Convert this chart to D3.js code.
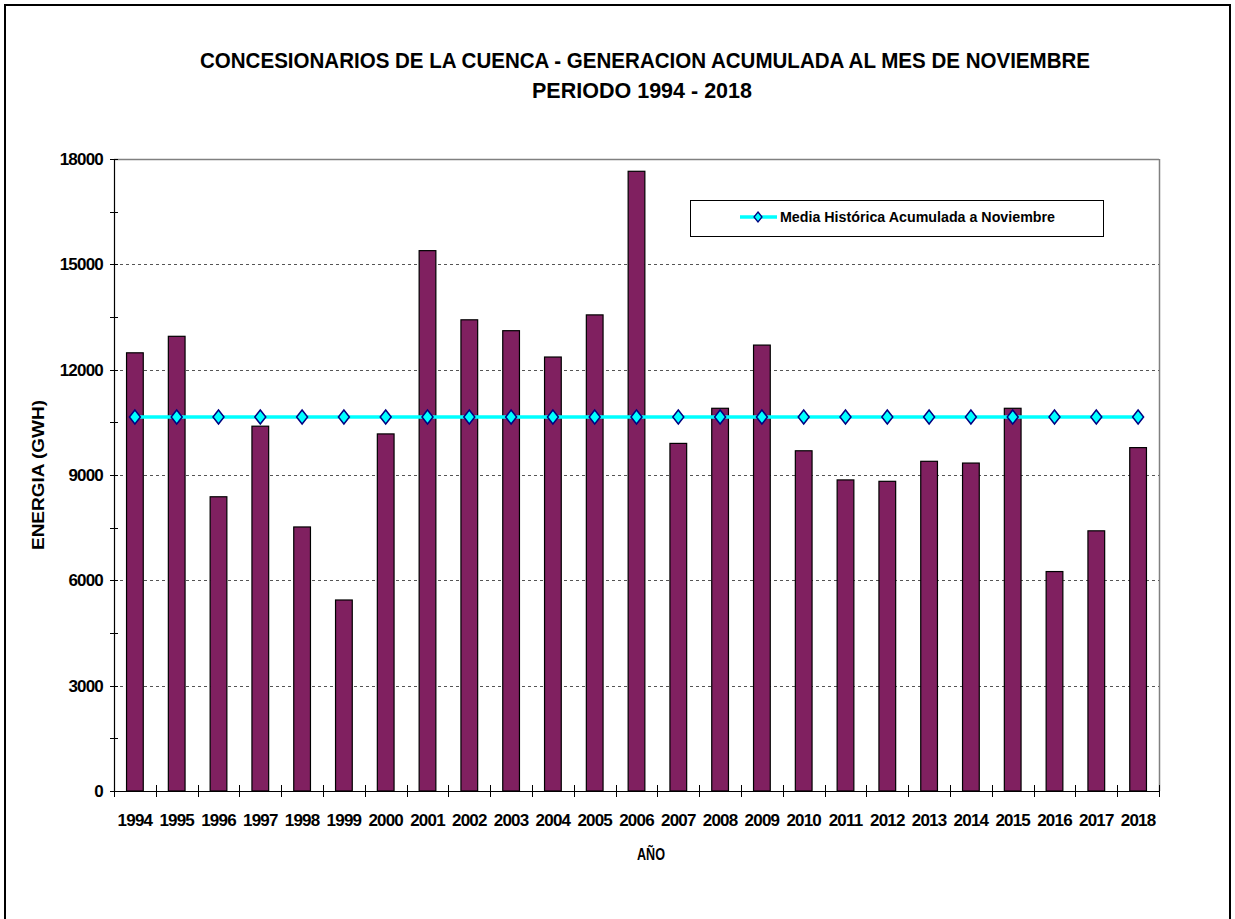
<!DOCTYPE html>
<html><head><meta charset="utf-8">
<script src="https://cdn.jsdelivr.net/npm/d3@7"></script>
<style>body{margin:0;background:#fff}svg{display:block}text{font-family:"Liberation Sans",Arial,sans-serif;font-weight:bold;fill:#000}</style>
</head><body><svg id="c" width="1235" height="919"></svg>
<script>
const years = ["1994","1995","1996","1997","1998","1999","2000","2001","2002","2003","2004","2005","2006","2007","2008","2009","2010","2011","2012","2013","2014","2015","2016","2017","2018"];
const energy = [12480,12950,8380,10390,7520,5440,10170,15390,13420,13110,12360,13560,17650,9900,10900,12700,9690,8860,8820,9390,9340,10900,6250,7410,9780];
const meanHist = [10650,10650,10650,10650,10650,10650,10650,10650,10650,10650,10650,10650,10650,10650,10650,10650,10650,10650,10650,10650,10650,10650,10650,10650,10650];
const yTicks = [0,3000,6000,9000,12000,15000,18000];
const yMinor = [1500,4500,7500,10500,13500,16500];
const titleLines = ["CONCESIONARIOS DE LA CUENCA - GENERACION ACUMULADA AL MES DE NOVIEMBRE","PERIODO 1994 - 2018"];
const legendLabel = "Media Histórica Acumulada a Noviembre";

const svg = d3.select("#c");
const L=114, R=1159, T=159, B=791;
const x = d3.scaleBand().domain(years).range([L,R]).paddingInner(0.6).paddingOuter(0.3);
const xb = d3.scaleBand().domain(years).range([L,R]);
const y = d3.scaleLinear().domain([0,18000]).range([B,T]);

// outer frame
svg.append("rect").attr("x",5).attr("y",5).attr("width",1225).attr("height",930).attr("fill","none").attr("stroke","#000").attr("stroke-width",2);

// titles
svg.append("text").attr("x",645).attr("y",68).attr("text-anchor","middle").attr("font-size",22)
  .attr("textLength",890).attr("lengthAdjust","spacingAndGlyphs").text(titleLines[0]);
svg.append("text").attr("x",642).attr("y",98).attr("text-anchor","middle").attr("font-size",22)
  .attr("textLength",220).attr("lengthAdjust","spacingAndGlyphs").text(titleLines[1]);

// gridlines
svg.append("g").selectAll("line").data(yTicks.filter(d=>d>0&&d<18000)).join("line")
  .attr("x1",L).attr("x2",R).attr("y1",d=>Math.round(y(d))+0.5).attr("y2",d=>Math.round(y(d))+0.5)
  .attr("stroke","#555").attr("stroke-width",1).attr("stroke-dasharray","3,3");
// top and right border of plot
svg.append("line").attr("x1",L).attr("x2",R).attr("y1",T+0.5).attr("y2",T+0.5).attr("stroke","#808080").attr("stroke-width",1.5);
svg.append("line").attr("x1",R+0.5).attr("x2",R+0.5).attr("y1",T).attr("y2",B).attr("stroke","#808080").attr("stroke-width",1.5);

// bars
svg.append("g").selectAll("rect").data(years).join("rect")
  .attr("x",(d)=>x(d)).attr("width",x.bandwidth())
  .attr("y",(d,i)=>y(energy[i])).attr("height",(d,i)=>B-y(energy[i]))
  .attr("fill","#802060").attr("stroke","#000").attr("stroke-width",1.2);

// axes
const yAxis = d3.axisLeft(y).tickValues(yTicks).tickFormat(d3.format("d")).tickSize(0).tickPadding(11);
const gy = svg.append("g").attr("transform",`translate(${L},0)`).call(yAxis);
gy.select(".domain").attr("stroke","#000").attr("stroke-width",1.2);
gy.selectAll("text").attr("font-size",17).attr("letter-spacing","-0.8px").attr("font-family","Liberation Sans, Arial").attr("font-weight","bold");
svg.append("g").selectAll("line").data(yTicks.concat(yMinor)).join("line")
  .attr("x1",L-4).attr("x2",L+4).attr("y1",d=>Math.round(y(d))+0.5).attr("y2",d=>Math.round(y(d))+0.5)
  .attr("stroke","#000").attr("stroke-width",1);

const gx = svg.append("g").attr("transform",`translate(0,${B})`).call(d3.axisBottom(xb).tickSize(0).tickPadding(0));
gx.select(".domain").remove();
gx.selectAll("text").attr("dy",0).attr("y",35).attr("font-size",17).attr("letter-spacing","-0.8px").attr("font-family","Liberation Sans, Arial").attr("font-weight","bold");
svg.append("line").attr("x1",L).attr("x2",R).attr("y1",B+0.5).attr("y2",B+0.5).attr("stroke","#000").attr("stroke-width",1.2);
const bounds = years.map(d=>xb(d)).concat([R]);
svg.append("g").selectAll("line").data(bounds).join("line")
  .attr("x1",d=>Math.round(d)+0.5).attr("x2",d=>Math.round(d)+0.5).attr("y1",B-6).attr("y2",B+6)
  .attr("stroke","#000").attr("stroke-width",1);

// mean line
const cx = d=>xb(d)+xb.bandwidth()/2;
svg.append("path").datum(years).attr("fill","none").attr("stroke","#00FFFF").attr("stroke-width",3.5)
  .attr("d",d3.line().x(cx).y((d,i)=>y(meanHist[i])));
const diamond = "M0,-7L5.5,0L0,7L-5.5,0Z";
svg.append("g").selectAll("path").data(years).join("path")
  .attr("transform",(d,i)=>`translate(${cx(d)},${y(meanHist[i])})`).attr("d",diamond)
  .attr("fill","#00FFFF").attr("stroke","#000080").attr("stroke-width",1.5);

// axis titles
svg.append("text").attr("transform","translate(44,475) rotate(-90)").attr("text-anchor","middle").attr("font-size",17)
  .attr("textLength",150).attr("lengthAdjust","spacingAndGlyphs").text("ENERGIA (GWH)");
svg.append("text").attr("x",651).attr("y",860).attr("text-anchor","middle").attr("font-size",17)
  .attr("textLength",28).attr("lengthAdjust","spacingAndGlyphs").text("AÑO");

// legend
const lg = svg.append("g");
lg.append("rect").attr("x",690.5).attr("y",200.5).attr("width",413).attr("height",36).attr("fill","#fff").attr("stroke","#000").attr("stroke-width",1);
lg.append("line").attr("x1",740).attr("x2",777).attr("y1",217).attr("y2",217).attr("stroke","#00FFFF").attr("stroke-width",3.5);
lg.append("path").attr("transform","translate(758,217)").attr("d","M0,-5L4,0L0,5L-4,0Z").attr("fill","#00FFFF").attr("stroke","#000080").attr("stroke-width",1.3);
lg.append("text").attr("x",780).attr("y",222).attr("font-size",15).attr("textLength",275).attr("lengthAdjust","spacingAndGlyphs").text(legendLabel);
</script></body></html>
